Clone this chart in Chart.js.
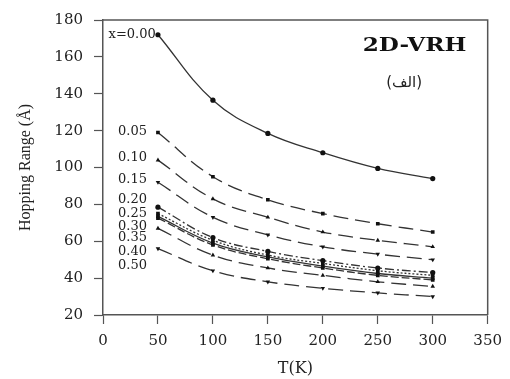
<!DOCTYPE html>
<html>
<head>
<meta charset="utf-8">
<script src="https://cdn.jsdelivr.net/npm/chart.js@4"></script>
<style>
  body { margin: 0; background: #fff; }
</style>
</head>
<body>
<canvas id="hopChart" width="510" height="379"></canvas>
<script>
// temperatures (K)
const temps = [50, 100, 150, 200, 250, 300];

// hopping range (Å) per composition x
const x000 = [172, 136.5, 118.5, 108, 99.5, 94];
const x005 = [119, 95, 82.5, 75, 69.5, 65];
const x010 = [104, 83, 73, 65, 60.5, 57];
const x015 = [92, 73, 63.5, 57, 53, 50];
const x020 = [78.5, 62, 54.5, 49.5, 45.5, 43];
const x025 = [75, 60.5, 52.5, 48, 44, 41.5];
const x030 = [73.5, 59, 51.5, 46.5, 42.5, 40];
const x035 = [72.5, 58, 50.5, 45.5, 41.5, 39];
const x040 = [67, 52.5, 45.5, 41.5, 38, 35.5];
const x050 = [56, 44, 38, 34.5, 32, 30];

const seriesNames = ["x=0.00", "0.05", "0.10", "0.15", "0.20", "0.25", "0.30", "0.35", "0.40", "0.50"];
// where the left-hand labels sit (in data units)
const labelT = [48, 40, 40, 40, 40, 40, 40, 40, 40, 40];
const labelY = [172, 119.5, 105.2, 93.2, 82.4, 75.2, 68, 62.2, 54.4, 46.6];

const lineColor = "#333";
const axisColor = "#555";
const serif = "'DejaVu Serif', 'Liberation Serif', serif";

const makeSet = (values, dash, pointStyle, rotation) => ({
  data: values.map((v, i) => ({ x: temps[i], y: v })),
  borderColor: lineColor,
  borderWidth: 1.3,
  borderDash: dash,
  tension: 0.4,
  pointStyle: pointStyle,
  pointRotation: rotation || 0,
  pointRadius: 2.6,
  pointBorderWidth: 0,
  pointBackgroundColor: "#111",
});

const longDash = [15, 7];

const datasets = [
  makeSet(x000, [], "circle"),
  makeSet(x005, longDash, "rect"),
  makeSet(x010, longDash, "triangle"),
  makeSet(x015, longDash, "triangle", 180),
  makeSet(x020, [9, 3, 2, 3], "circle"),
  makeSet(x025, [2, 2], "rect"),
  makeSet(x030, [], "rect"),
  makeSet(x035, [8, 3], "rect"),
  makeSet(x040, longDash, "triangle"),
  makeSet(x050, longDash, "triangle", 180),
];

const frameAndText = {
  id: "frameAndText",
  beforeDatasetsDraw(chart) {
    const { ctx, chartArea: a } = chart;
    ctx.save();
    ctx.strokeStyle = axisColor;
    ctx.lineWidth = 1.5;
    ctx.beginPath();
    ctx.moveTo(a.left, a.top);
    ctx.lineTo(a.right, a.top);
    ctx.lineTo(a.right, a.bottom);
    ctx.stroke();
    ctx.restore();
  },
  afterDatasetsDraw(chart) {
    const { ctx, scales } = chart;
    const xs = scales.x, ys = scales.y;
    ctx.save();
    ctx.fillStyle = "#222";
    ctx.font = "13px " + serif;
    ctx.textAlign = "right";
    ctx.textBaseline = "middle";
    seriesNames.forEach((name, i) => {
      ctx.fillText(name, xs.getPixelForValue(labelT[i]), ys.getPixelForValue(labelY[i]));
    });

    // panel title
    const tx = xs.getPixelForValue(283.5);
    const ty = ys.getPixelForValue(166);
    ctx.save();
    ctx.translate(tx, ty);
    ctx.scale(1.22, 1);
    ctx.font = "bold 19px " + serif;
    ctx.textAlign = "center";
    ctx.fillStyle = "#111";
    ctx.fillText("2D-VRH", 0, 0);
    ctx.restore();

    ctx.font = "15px 'DejaVu Sans', sans-serif";
    ctx.textAlign = "center";
    ctx.fillStyle = "#222";
    ctx.fillText("(الف)", xs.getPixelForValue(274), ys.getPixelForValue(146));
    ctx.restore();
  },
};

new Chart(document.getElementById("hopChart"), {
  type: "line",
  data: { datasets },
  options: {
    responsive: false,
    animation: false,
    layout: { padding: { top: 20, right: 16, left: 0, bottom: 0 } },
    plugins: { legend: { display: false }, tooltip: { enabled: false } },
    scales: {
      x: {
        type: "linear",
        min: 0,
        max: 350,
        afterFit: (s) => { s.height = 64; },
        ticks: { stepSize: 50, color: "#222", padding: 8, font: { family: serif, size: 15 } },
        grid: { drawOnChartArea: false, drawTicks: true, tickLength: 9, tickColor: axisColor, tickWidth: 1.2 },
        border: { display: true, color: axisColor, width: 1.5 },
        title: { display: true, text: "T(K)", color: "#222", padding: { top: 0, bottom: 1 }, font: { family: serif, size: 16 } },
      },
      y: {
        min: 20,
        max: 180,
        afterFit: (s) => { s.width = 103; },
        ticks: { stepSize: 20, color: "#222", padding: 11, font: { family: serif, size: 15 } },
        grid: { drawOnChartArea: false, drawTicks: true, tickLength: 9, tickColor: axisColor, tickWidth: 1.2 },
        border: { display: true, color: axisColor, width: 1.5 },
        title: { display: true, text: "Hopping Range (Å)", color: "#222", padding: { top: 16, bottom: 0 }, font: { family: "'Liberation Serif', serif", size: 16 } },
      },
    },
  },
  plugins: [frameAndText],
});
</script>
</body>
</html>
